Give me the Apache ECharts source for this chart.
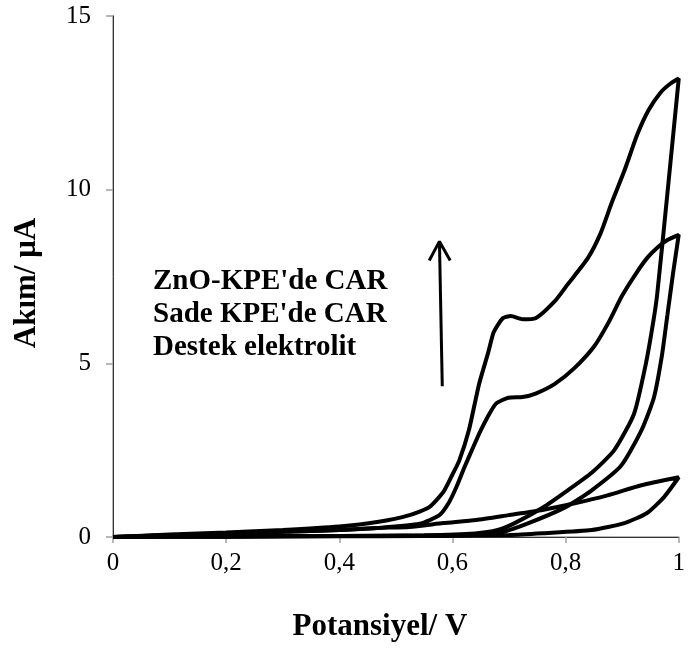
<!DOCTYPE html>
<html lang="tr">
<head>
<meta charset="UTF-8" />
<title>Akım - Potansiyel</title>
<script src="https://cdn.jsdelivr.net/npm/echarts@6/dist/echarts.min.js"></script>
<style>
html, body { margin: 0; padding: 0; background: #fff; }
#chart { width: 688px; height: 648px; }
</style>
</head>
<body>
<div id="chart"></div>
<script>
// potential (V), current (uA) pairs
const znoForward = [[0,0],[0.1,0.07],[0.2,0.13],[0.3,0.2],[0.4,0.3],[0.467,0.43],[0.524,0.63],[0.559,0.86],[0.584,1.3],[0.6,1.8],[0.612,2.2],[0.629,3.07],[0.647,4.4],[0.663,5.3],[0.673,5.9],[0.689,6.3],[0.703,6.36],[0.724,6.27],[0.747,6.3],[0.781,6.79],[0.804,7.28],[0.839,8.02],[0.862,8.75],[0.881,9.6],[0.904,10.55],[0.927,11.6],[0.947,12.3],[0.968,12.8],[0.985,13.05],[1,13.2]];
const znoReturn = [[1,13.2],[0.98,9.9],[0.962,7.0],[0.955,6.2],[0.942,5.0],[0.921,3.55],[0.886,2.5],[0.846,1.85],[0.8,1.3],[0.76,0.85],[0.71,0.4],[0.68,0.2],[0.64,0.1],[0.55,0.05],[0.4,0.03],[0.2,0.01],[0,0]];
const sadeForward = [[0,0],[0.1,0.05],[0.2,0.1],[0.3,0.15],[0.4,0.2],[0.467,0.26],[0.542,0.38],[0.577,0.63],[0.593,0.97],[0.607,1.44],[0.621,2.0],[0.637,2.6],[0.65,3.07],[0.662,3.45],[0.677,3.84],[0.699,4.01],[0.724,4.03],[0.747,4.13],[0.781,4.41],[0.816,4.87],[0.851,5.5],[0.875,6.15],[0.9,6.95],[0.925,7.6],[0.945,8.05],[0.962,8.33],[0.98,8.55],[1,8.7]];
const sadeReturn = [[1,8.7],[0.99,7.6],[0.98,6.4],[0.97,5.2],[0.956,4.01],[0.934,3.07],[0.898,2.05],[0.845,1.33],[0.8,0.86],[0.73,0.37],[0.685,0.13],[0.64,0.06],[0.55,0.03],[0.4,0.02],[0.2,0.01],[0,0]];
const destekForward = [[0,0],[0.2,0.02],[0.4,0.03],[0.6,0.04],[0.7,0.06],[0.76,0.11],[0.846,0.2],[0.904,0.4],[0.944,0.69],[0.974,1.15],[1,1.72]];
const destekReturn = [[1,1.72],[0.934,1.49],[0.874,1.2],[0.816,0.97],[0.759,0.78],[0.699,0.63],[0.642,0.49],[0.584,0.4],[0.524,0.29],[0.467,0.26],[0.4,0.2],[0.3,0.15],[0.2,0.1],[0.1,0.05],[0,0]];

const curveNames = ["ZnO-KPE'de CAR", "Sade KPE'de CAR", "Destek elektrolit"];
const xTicks = [0, 0.2, 0.4, 0.6, 0.8, 1];
const yTicks = [0, 5, 10, 15];

// arrow pointing up (annotation)
const arrowShaft = [[0.582, 4.34], [0.577, 8.51]];
const arrowHead = [[0.559, 7.96], [0.577, 8.51], [0.596, 7.96]];

const serif = "'Liberation Serif', 'Times New Roman', serif";
const gray = '#a0a0a0';

function curve(name, data) {
    return {
        name: name,
        type: 'line',
        data: data,
        showSymbol: false,
        smooth: 0.2,
        clip: false,
        silent: true,
        lineStyle: { color: '#000', width: 4 }
    };
}

function plain(data, width) {
    return {
        type: 'line',
        data: data,
        showSymbol: false,
        clip: false,
        silent: true,
        lineStyle: { color: '#000', width: width }
    };
}

const chart = echarts.init(document.getElementById('chart'));

chart.setOption({
    animation: false,
    backgroundColor: '#fff',
    grid: { left: 113, right: 3, top: 16, bottom: 111 },
    xAxis: [
        {
            type: 'value',
            min: xTicks[0],
            max: xTicks[xTicks.length - 1],
            interval: 0.2,
            name: 'Potansiyel/ V',
            nameLocation: 'middle',
            nameGap: 74,
            nameTextStyle: { fontFamily: serif, fontWeight: 'bold', fontSize: 31, color: '#000', padding: [0, 32, 0, 0] },
            axisLine: { lineStyle: { color: gray, width: 1.5 } },
            axisTick: { length: 6, lineStyle: { color: gray, width: 1.5 } },
            splitLine: { show: false },
            axisLabel: {
                margin: 14,
                fontFamily: serif,
                fontSize: 25,
                color: '#000',
                formatter: v => String(+v.toFixed(1)).replace('.', ',')
            }
        },
        {
            type: 'value', position: 'top', min: 0, max: 1,
            axisLine: { lineStyle: { color: '#333', width: 1 } },
            axisTick: { show: false }, axisLabel: { show: false }, splitLine: { show: false }
        }
    ],
    yAxis: [
        {
            type: 'value',
            min: yTicks[0],
            max: yTicks[yTicks.length - 1],
            interval: 5,
            name: 'Akım/ μA',
            nameLocation: 'middle',
            nameGap: 71,
            nameTextStyle: { fontFamily: serif, fontWeight: 'bold', fontSize: 31, color: '#000', padding: [0, 13, 0, 0] },
            axisLine: { show: true, lineStyle: { color: gray, width: 1.5 } },
            axisTick: { show: true, length: 7, lineStyle: { color: gray, width: 1.5 } },
            splitLine: { show: false },
            axisLabel: { margin: 22, fontFamily: serif, fontSize: 25, color: '#000' }
        },
        {
            type: 'value', position: 'right', min: 0, max: 15,
            axisLine: { show: true, lineStyle: { color: '#333', width: 1 } },
            axisTick: { show: false }, axisLabel: { show: false }, splitLine: { show: false }
        }
    ],
    graphic: curveNames.map((t, i) => ({
        type: 'text',
        left: 153,
        top: 280 + i * 33 - 13,
        style: { text: t, font: 'bold 29px ' + serif, fill: '#000' }
    })),
    series: [
        curve(curveNames[0], znoForward.concat(znoReturn.slice(1))),
        curve(curveNames[1], sadeForward.concat(sadeReturn.slice(1))),
        curve(curveNames[2], destekForward.concat(destekReturn.slice(1))),
        plain(arrowShaft, 3),
        plain(arrowHead, 3)
    ]
});
</script>
</body>
</html>
